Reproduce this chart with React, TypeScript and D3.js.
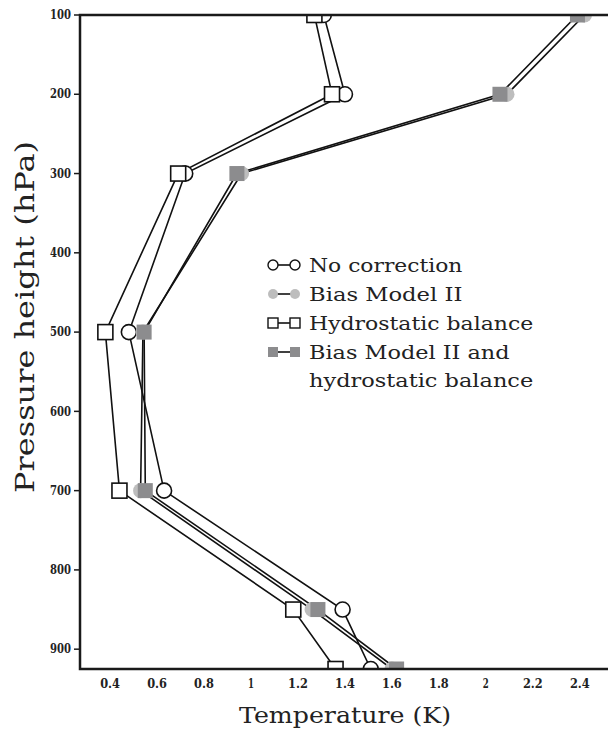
import * as React from "react";
import * as d3 from "d3";

// pressure levels (hPa)
const levels = [100, 200, 300, 500, 700, 850, 925];

// RMS temperature error (K) per experiment
const noCorrection = [1.31, 1.4, 0.72, 0.48, 0.63, 1.39, 1.51];
const biasModel2 = [2.42, 2.09, 0.96, 0.54, 0.53, 1.26, 1.6];
const hydrostatic = [1.27, 1.345, 0.69, 0.38, 0.44, 1.18, 1.36];
const biasAndHydro = [2.39, 2.06, 0.94, 0.545, 0.55, 1.285, 1.62];

const xTicks = [0.4, 0.6, 0.8, 1, 1.2, 1.4, 1.6, 1.8, 2, 2.2, 2.4];
const yTicks = [100, 200, 300, 400, 500, 600, 700, 800, 900];

const series = [
  { name: "No correction", values: noCorrection, shape: "circle", fill: "#ffffff", stroke: "#111" },
  { name: "Bias Model II", values: biasModel2, shape: "circle", fill: "#bdbdbd", stroke: "none" },
  { name: "Hydrostatic balance", values: hydrostatic, shape: "square", fill: "#ffffff", stroke: "#111" },
  { name: "Bias Model II and|hydrostatic balance", values: biasAndHydro, shape: "square", fill: "#8c8c8e", stroke: "none" },
];

const slab = "'DejaVu Serif', serif";

function drawChart(svgEl: SVGSVGElement) {
  const svg = d3.select(svgEl);
  svg.selectAll("*").remove();

  const left = 80, top = 15, right = 608, bottom = 669;

  const x = d3.scaleLinear().domain([0.272, 2.52]).range([left, right]);
  const y = d3.scaleLinear().domain([100, 925]).range([top, bottom]);

  svg.append("defs").append("clipPath").attr("id", "plotclip")
    .append("rect").attr("x", left).attr("y", top).attr("width", right - left).attr("height", bottom - top);

  const plot = svg.append("g").attr("clip-path", "url(#plotclip)");

  const line = d3.line<number>()
    .x(d => x(d))
    .y((d, i) => y(levels[i]));

  // lines first
  series.forEach(s => {
    plot.append("path")
      .attr("d", line(s.values))
      .attr("fill", "none")
      .attr("stroke", "#111")
      .attr("stroke-width", 1.6);
  });

  // markers: circles then squares
  series.forEach(s => {
    s.values.forEach((v, i) => {
      if (s.shape === "circle") {
        plot.append("circle")
          .attr("cx", x(v)).attr("cy", y(levels[i])).attr("r", 7.5)
          .attr("fill", s.fill).attr("stroke", s.stroke).attr("stroke-width", 1.6);
      } else {
        plot.append("rect")
          .attr("x", x(v) - 7.5).attr("y", y(levels[i]) - 7.5)
          .attr("width", 15).attr("height", 15)
          .attr("fill", s.fill).attr("stroke", s.stroke).attr("stroke-width", 1.6);
      }
    });
  });

  // frame
  const axisColor = "#1a1a1a";
  svg.append("path")
    .attr("d", `M${right},${top}H${left}V${bottom}H${right}`)
    .attr("fill", "none").attr("stroke", axisColor).attr("stroke-width", 2.5);

  // y ticks
  const yAxis = svg.append("g");
  yTicks.forEach(t => {
    yAxis.append("line").attr("x1", left - 6).attr("x2", left).attr("y1", y(t)).attr("y2", y(t))
      .attr("stroke", axisColor).attr("stroke-width", 1.5);
    yAxis.append("text").attr("x", left - 9).attr("y", y(t)).attr("dy", "0.35em")
      .attr("text-anchor", "end").attr("font-family", slab)
      .attr("font-weight", "bold").attr("font-size", 12).attr("fill", "#222")
      .attr("textLength", 21).attr("lengthAdjust", "spacingAndGlyphs").text(t);
  });

  // x tick labels
  xTicks.forEach(t => {
    const label = String(t);
    svg.append("text").attr("x", x(t)).attr("y", 688)
      .attr("text-anchor", "middle").attr("font-family", slab)
      .attr("font-weight", "bold").attr("font-size", 12).attr("fill", "#222")
      .attr("textLength", label.length === 1 ? 6 : label.length * 6.6)
      .attr("lengthAdjust", "spacingAndGlyphs").text(label);
  });

  // axis titles
  svg.append("text").attr("x", 239).attr("y", 723)
    .attr("font-family", slab).attr("font-size", 23).attr("fill", "#222")
    .attr("textLength", 212).attr("lengthAdjust", "spacingAndGlyphs")
    .text("Temperature (K)");

  svg.append("text").attr("transform", `translate(34,493) rotate(-90)`)
    .attr("font-family", slab).attr("font-size", 26).attr("fill", "#222")
    .attr("textLength", 352).attr("lengthAdjust", "spacingAndGlyphs")
    .text("Pressure height (hPa)");

  // legend
  const legend = svg.append("g").attr("transform", "translate(268,265)");
  const rowGap = 29;
  series.forEach((s, i) => {
    const cy = i * rowGap;
    legend.append("line").attr("x1", 5).attr("x2", 27).attr("y1", cy).attr("y2", cy)
      .attr("stroke", "#111").attr("stroke-width", 1.6);
    [5, 27].forEach(cx => {
      if (s.shape === "circle") {
        legend.append("circle").attr("cx", cx).attr("cy", cy).attr("r", 5)
          .attr("fill", s.fill).attr("stroke", s.stroke).attr("stroke-width", 1.4);
      } else {
        legend.append("rect").attr("x", cx - 5).attr("y", cy - 5).attr("width", 10).attr("height", 10)
          .attr("fill", s.fill).attr("stroke", s.stroke).attr("stroke-width", 1.4);
      }
    });
    s.name.split("|").forEach((part, j) => {
      legend.append("text").attr("x", 41).attr("y", cy + j * 28).attr("dy", "0.35em")
        .attr("font-family", slab).attr("font-size", 19).attr("fill", "#222")
        .attr("textLength", part.length * 11.8).attr("lengthAdjust", "spacingAndGlyphs")
        .text(part);
    });
  });
}

const App = () => {
  const svgRef = React.useRef<SVGSVGElement>(null);
  React.useEffect(() => {
    if (svgRef.current) drawChart(svgRef.current);
  }, []);

  return (
    <svg
      ref={svgRef}
      width={608}
      height={730}
      style={{ position: "absolute", left: 0, top: 0, background: "#fff" }}
    />
  );
};

export default App;
